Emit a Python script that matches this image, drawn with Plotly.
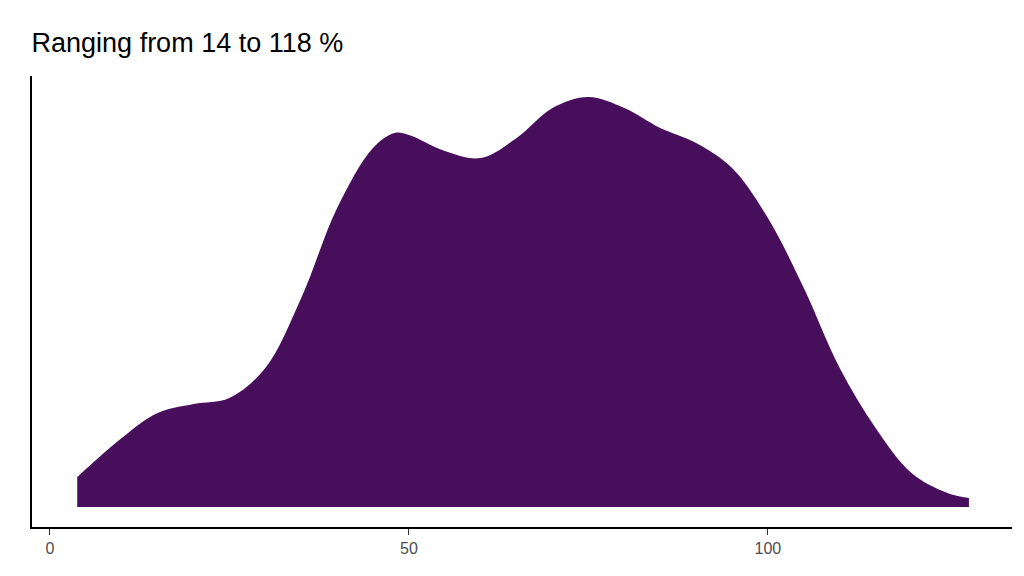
import plotly.graph_objects as go

x_vals = [3.8, 10, 15, 20, 25, 30, 35, 40, 45, 48, 50, 55, 60, 65, 70, 75, 80, 85, 90, 95, 100, 105, 110, 115, 120, 125, 128]
density = [30, 69, 94, 103, 109, 139, 209, 299, 359, 374, 372, 356, 349, 369, 399, 410, 399, 379, 364, 339, 289, 219, 139, 79, 34, 14, 9]

fig = go.Figure(go.Scatter(x=x_vals, y=density, mode="lines", line=dict(color="#470E5C", width=0, shape="spline", smoothing=1.0),
                           fill="tozeroy", fillcolor="#470E5C", hoverinfo="skip"))
fig.update_layout(
    width=1024, height=576, plot_bgcolor="white", paper_bgcolor="white",
    margin=dict(l=24, r=20, t=68, b=57), showlegend=False,
    title=dict(text="Ranging from 14 to 118 %", x=0.023, xanchor="left", y=0.94, yanchor="middle",
               font=dict(family="Liberation Sans, Arial", size=27, color="black")),
    xaxis=dict(range=[-2.5, 134], tickvals=[0, 50, 100], ticks="outside", ticklen=6, tickcolor="#333",
               showline=True, linecolor="black", linewidth=2, showgrid=False, zeroline=False,
               tickfont=dict(family="Liberation Sans, Arial", size=16, color="#4d4d4d")),
    yaxis=dict(range=[-20, 431], showticklabels=False, ticks="", showline=True, linecolor="black",
               linewidth=2, showgrid=False, zeroline=False),
)
fig.write_html("out.html")
